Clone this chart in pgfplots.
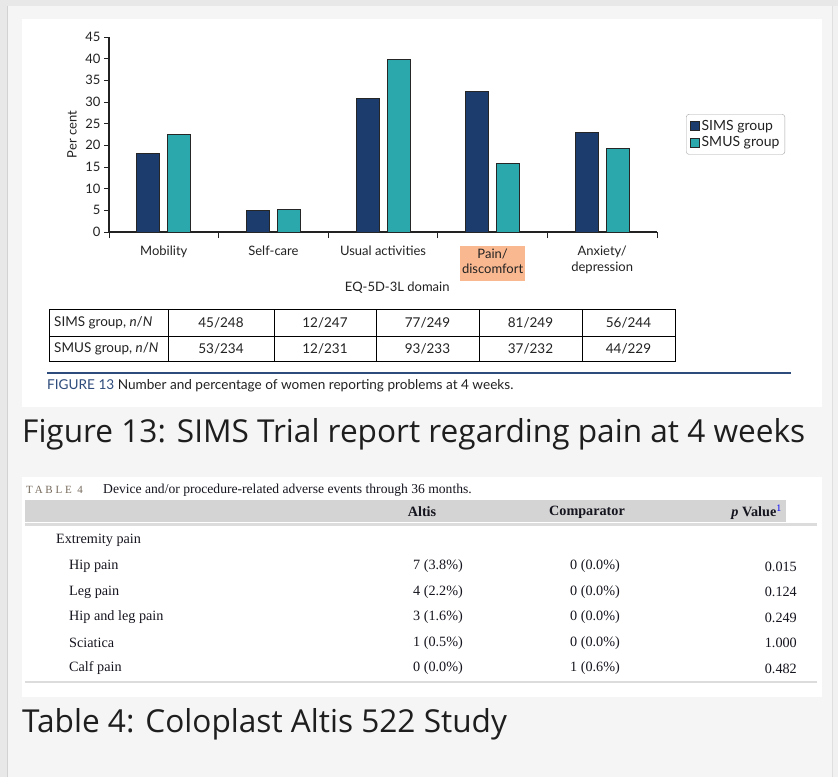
\documentclass[border=0pt]{standalone}
\usepackage{fontspec}
\setmainfont{Lato}
\newfontfamily\osans{Open Sans}
\newfontfamily\tnr{Liberation Serif}
\newfontfamily\tnrsp[LetterSpace=25]{Liberation Serif}
\usepackage{pgfplots}
\pgfplotsset{compat=1.18}
\definecolor{sims}{HTML}{1D3C6E}
\definecolor{smus}{HTML}{2AA8AC}
\definecolor{painbg}{HTML}{FAB890}
\definecolor{bgc}{HTML}{F5F5F5}
\definecolor{txt}{HTML}{222222}
\definecolor{figblue}{HTML}{2D4B7B}
\definecolor{capc}{HTML}{1E1E1E}
\definecolor{tabtxt}{HTML}{15151F}
\definecolor{hdr}{HTML}{D4D4D4}
\definecolor{rulec}{HTML}{DCDCDC}
\definecolor{tab4lab}{HTML}{776B5D}
\definecolor{edgeA}{HTML}{E8E8E8}
\definecolor{edgeB}{HTML}{D2D2D2}
\begin{document}
\begin{tikzpicture}
\begin{scope}[x=1bp,y=-1bp]
\path[use as bounding box] (0,0) rectangle (838,777);
\fill[bgc] (0,0) rectangle (838,777);
\fill[edgeA] (0,0) rectangle (838,6);
\fill[edgeA] (0,0) rectangle (7,777);
\draw[edgeB, line width=1bp] (7.5,6) -- (7.5,777);
\fill[edgeA!60] (833,6) rectangle (838,777);
\draw[edgeB!70, line width=1bp] (832.5,6) -- (832.5,777);
% white panels
\fill[white] (22,19) rectangle (822,407);
\fill[white] (22,477) rectangle (822,697);
% chart table
\draw[black, line width=1bp] (49,309) rectangle (675,361);
\draw[black, line width=1bp] (49,336) -- (675,336);
\foreach \xx in {168,274,376,479,582} \draw[black, line width=1bp] (\xx,309) -- (\xx,361);
\begin{scope}[every node/.style={font=\fontsize{13.5bp}{16bp}\selectfont, text=txt, inner sep=0pt}]
\node[anchor=west] at (54,322.5) {SIMS group, \textit{n}/\textit{N}};
\node[anchor=west] at (54,348.5) {SMUS group, \textit{n}/\textit{N}};
\node at (221,322.5) {45/248};
\node at (325,322.5) {12/247};
\node at (427.5,322.5) {77/249};
\node at (530.5,322.5) {81/249};
\node at (628.5,322.5) {56/244};
\node at (221,348.5) {53/234};
\node at (325,348.5) {12/231};
\node at (427.5,348.5) {93/233};
\node at (530.5,348.5) {37/232};
\node at (628.5,348.5) {44/229};
\end{scope}
\draw[figblue, line width=2.5bp] (47,373) -- (791,373);
\node[anchor=west, inner sep=0pt, font=\fontsize{13.6bp}{16bp}\selectfont, text=txt] at (47,385.5) {{\color{figblue}FIGURE 13}\ Number and percentage of women reporting problems at 4 weeks.};
% big captions
\node[anchor=base west, inner sep=0pt, font=\osans\fontsize{31.6bp}{36bp}\selectfont, text=capc] at (22,442.5) {Figure 13: SIMS Trial report regarding pain at 4 weeks};
\node[anchor=base west, inner sep=0pt, font=\osans\fontsize{31.6bp}{36bp}\selectfont, text=capc] at (22,732) {Table 4: Coloplast Altis 522 Study};
% table 4
\node[anchor=base west, inner sep=0pt, font=\tnrsp\fontsize{11bp}{12bp}\selectfont, text=tab4lab] at (26,493) {TABLE 4};
\node[anchor=base west, inner sep=0pt, font=\tnr\fontsize{13.6bp}{15bp}\selectfont, text=tabtxt] at (103,493) {Device and/or procedure-related adverse events through 36 months.};
\fill[hdr] (25,500) rectangle (786,522);
\draw[rulec, line width=2.5bp] (25,524.5) -- (817,524.5);
\draw[rulec, line width=2bp] (25,682) -- (817,682);
\begin{scope}[every node/.style={font=\tnr\fontsize{14.2bp}{16bp}\selectfont, text=tabtxt, inner sep=0pt}]
\node at (422,512) {\textbf{Altis}};
\node at (587,512) {\textbf{Comparator}};
\node[anchor=east] at (782,512) {\textbf{\textit{p} Value}\textsuperscript{\color{blue}1}};
\node[anchor=west] at (56,540) {Extremity pain};
\node[anchor=west] at (69,566.5) {Hip pain};
\node[anchor=west] at (69,592) {Leg pain};
\node[anchor=west] at (69,617.5) {Hip and leg pain};
\node[anchor=west] at (69,643) {Sciatica};
\node[anchor=west] at (69,668.5) {Calf pain};
\node at (438,566.5) {7 (3.8\%)};
\node at (438,592) {4 (2.2\%)};
\node at (438,617.5) {3 (1.6\%)};
\node at (438,643) {1 (0.5\%)};
\node at (438,668.5) {0 (0.0\%)};
\node at (595,566.5) {0 (0.0\%)};
\node at (595,592) {0 (0.0\%)};
\node at (595,617.5) {0 (0.0\%)};
\node at (595,643) {0 (0.0\%)};
\node at (595,668.5) {1 (0.6\%)};
\node[anchor=east] at (797,566.5) {0.015};
\node[anchor=east] at (797,592) {0.124};
\node[anchor=east] at (797,617.5) {0.249};
\node[anchor=east] at (797,643) {1.000};
\node[anchor=east] at (797,668.5) {0.482};
\end{scope}
\end{scope}
\begin{axis}[
  at={(109bp,-232bp)}, anchor=south west,
  scale only axis, width=548bp, height=195bp,
  xmin=-0.5, xmax=4.5, ymin=0, ymax=45,
  axis x line*=bottom, axis y line*=left,
  axis line style={txt, line width=1.1bp},
  every tick/.style={txt, line width=1bp},
  tick align=outside,
  major tick length=5bp, minor tick length=6bp,
  ytick={0,5,...,45},
  xtick={0,...,4},
  minor xtick={-0.5,0.5,...,4.5},
  major x tick style={draw=none},
  xticklabels={Mobility, Self-care, Usual activities, {\setlength{\fboxsep}{2bp}\colorbox{painbg}{\begin{tabular}{@{}c@{}}Pain/\\[-1bp]discomfort\end{tabular}}}, {Anxiety/\\depression}},
  xticklabel style={align=center, font=\fontsize{13bp}{16bp}\selectfont, text=txt, anchor=north, yshift=-5bp},
  yticklabel style={font=\fontsize{13bp}{16bp}\selectfont, text=txt},
  /pgf/number format/assume math mode=true,
  xlabel={EQ-5D-3L domain},
  xlabel style={at={(axis description cs:0.526,0)}, anchor=center, yshift=-56bp, font=\fontsize{13bp}{16bp}\selectfont, text=txt},
  ylabel={Per cent},
  ylabel style={at={(axis description cs:-0.0675,0.5)}, anchor=center, font=\fontsize{13bp}{16bp}\selectfont, text=txt},
  ybar, bar width=23bp,
  legend style={at={(1.053,0.605)}, anchor=north west, draw=gray!70, rounded corners=3bp, fill=white, font=\fontsize{14bp}{16bp}\selectfont, text=txt, inner xsep=3.5bp, inner ysep=4bp, row sep=1bp, cells={anchor=west}},
  legend image code/.code={\draw[#1, sharp corners] (0bp,-4.5bp) rectangle (9bp,4.5bp);},
]
\addplot[fill=sims, draw=black!85, line width=0.9bp, bar shift=-15.5bp] coordinates {(0,18.1) (1,4.9) (2,30.9) (3,32.5) (4,23.0)};
\addplot[fill=smus, draw=black!85, line width=0.9bp, bar shift=15.5bp] coordinates {(0,22.6) (1,5.2) (2,39.9) (3,15.9) (4,19.2)};
\legend{SIMS group, SMUS group}
\end{axis}
\end{tikzpicture}
\end{document}
